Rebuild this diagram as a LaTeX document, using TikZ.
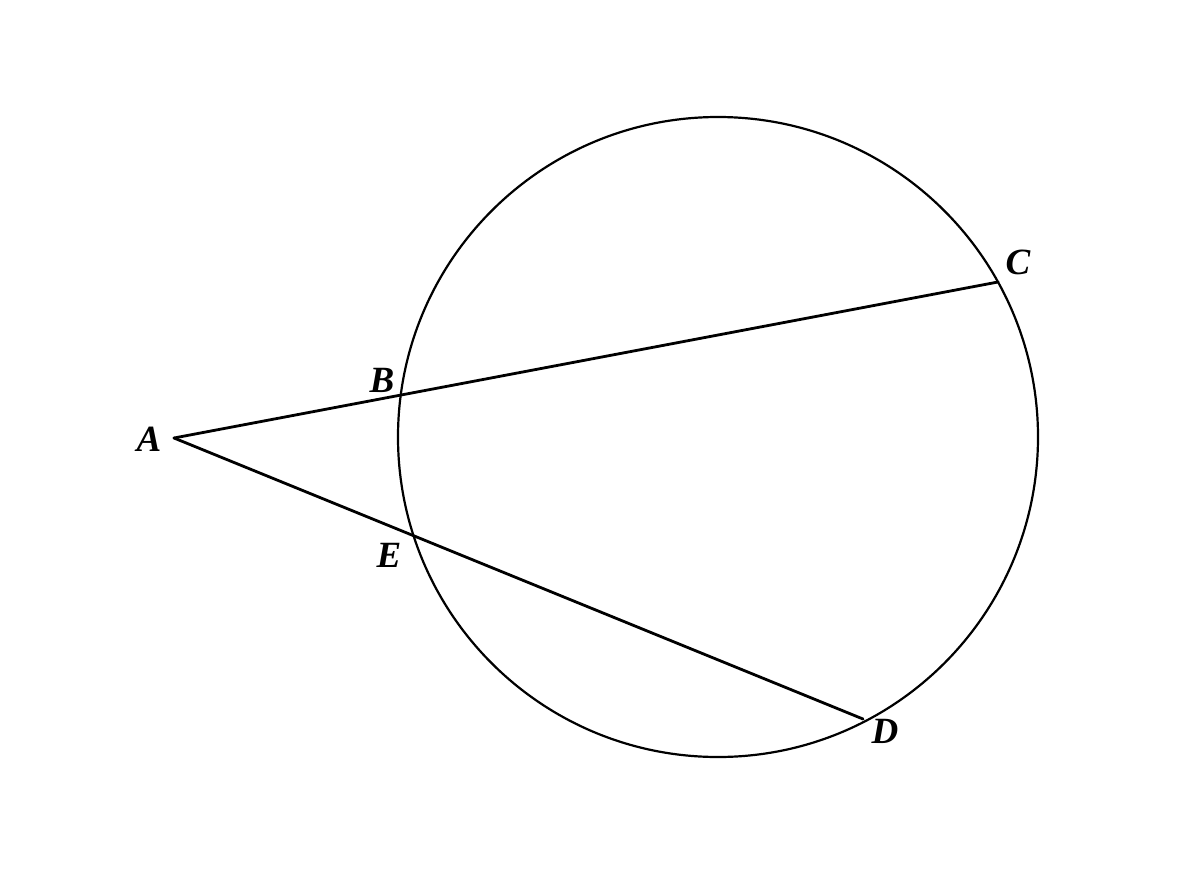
\documentclass[tikz,border=0pt]{standalone}
\usepackage{fontspec}
\setmainfont{Liberation Serif}
\begin{document}
\begin{tikzpicture}[x=1pt,y=-1pt,
  seg/.style={line width=2.8pt, line cap=round},
  circ/.style={line width=2.2pt},
  lbl/.style={font=\fontsize{37}{42}\selectfont\bfseries\itshape, inner sep=0pt}]
\useasboundingbox (0,0) rectangle (1200,873);
\coordinate (O) at (718,437);
\coordinate (A) at (174,438);
\coordinate (B) at (399,396);
\coordinate (C) at (998,282);
\coordinate (E) at (410,534);
\coordinate (D) at (863,719);
\draw[circ] (O) circle (320);
\draw[seg] (A) -- (C);
\draw[seg] (A) -- (D);
\node[lbl] (lA) at (149,439) {A};
\node[lbl] (lB) at (382,380) {B};
\node[lbl] (lC) at (1018,262) {C};
\node[lbl] (lE) at (389,555) {E};
\node[lbl] (lD) at (885,731) {D};
\end{tikzpicture}
\end{document}
